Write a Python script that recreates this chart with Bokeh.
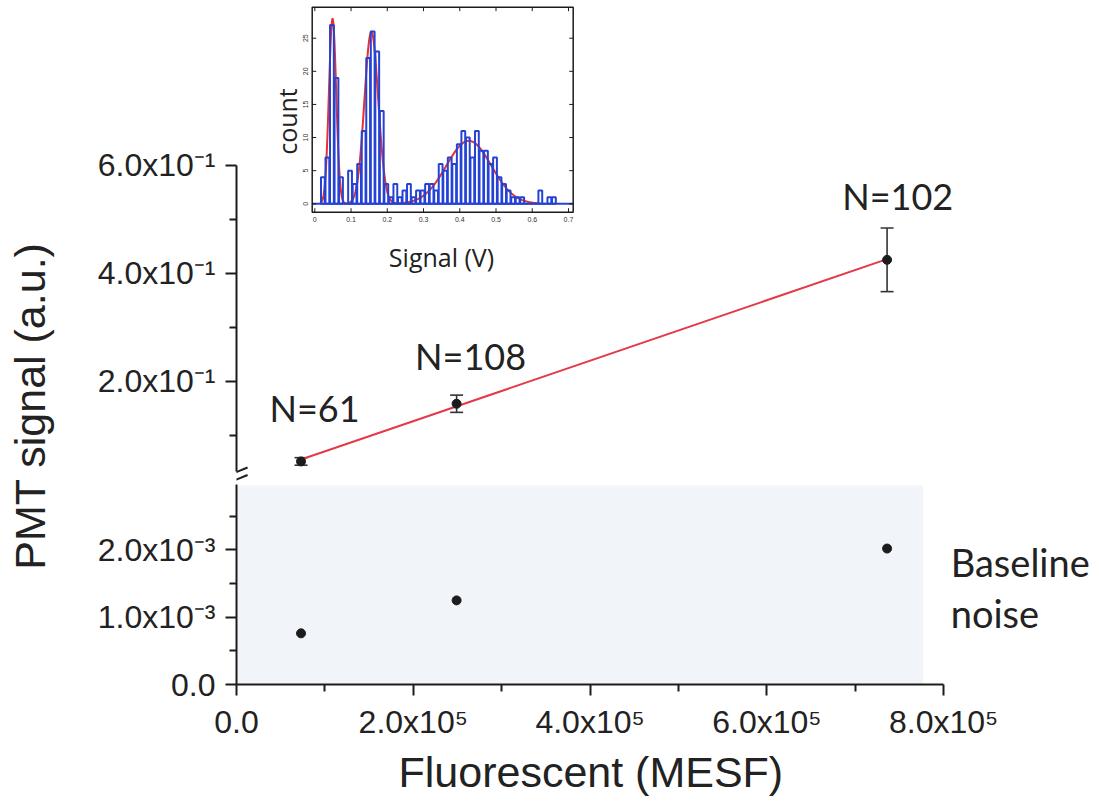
import numpy as np
from bokeh.plotting import figure
from bokeh.layouts import row, column
from bokeh.models import (ColumnDataSource, FixedTicker, Range1d, Whisker, TeeHead,
                          BoxAnnotation, Arrow, Title)
from bokeh.core.properties import value
from bokeh.embed import file_html
from bokeh.resources import INLINE

# ---- data -------------------------------------------------------------
# bead populations: fluorescence (MESF)
mesf = [0.73e5, 2.49e5, 7.36e5]
# mean PMT signal and standard deviation per population
pmt_signal = [0.051, 0.158, 0.425]
pmt_err = [0.007, 0.016, 0.059]
# baseline noise recorded for each population
baseline_noise = [0.76e-3, 1.25e-3, 2.02e-3]
# events per population
n_events = [61, 108, 102]

# inset: histogram of pulse amplitudes (V)
hist_start = 0.016
hist_bin = 0.0125
hist_counts = [4, 7, 27, 19, 4, 0, 5, 3, 6, 11, 22, 26, 23, 14, 3, 1, 3, 1, 2, 3,
               1, 2, 2, 3, 3, 2, 6, 5, 7, 6, 9, 11, 10, 7, 11, 8, 8, 6, 7, 4,
               3, 2, 1, 1, 1, 0, 0, 0, 2, 0, 1, 1]
# three-Gaussian fit of the histogram: amplitude, centre (V), sigma (V)
fit_amp = [28.0, 26.0, 9.5]
fit_mu = [0.049, 0.156, 0.425]
fit_sigma = [0.010, 0.019, 0.062]

# axis ticks and labels
x_ticks = [0, 2e5, 4e5, 6e5, 8e5]
x_minor = [1e5, 3e5, 5e5, 7e5]
x_tick_labels = ["0.0", "2.0x10\u2075", "4.0x10\u2075", "6.0x10\u2075", "8.0x10\u2075"]
upper_ticks = [0.2, 0.4, 0.6]
upper_minor = [0.1, 0.3, 0.5]
upper_tick_labels = ["2.0x10\u207b\u00b9", "4.0x10\u207b\u00b9", "6.0x10\u207b\u00b9"]
lower_ticks = [0, 1e-3, 2e-3]
lower_minor = [0.5e-3, 1.5e-3, 2.5e-3]
lower_tick_labels = ["0.0", "1.0x10\u207b\u00b3", "2.0x10\u207b\u00b3"]
inset_x_ticks = [0, 0.1, 0.2, 0.3, 0.4, 0.5, 0.6, 0.7]
inset_x_labels = ["0", "0.1", "0.2", "0.3", "0.4", "0.5", "0.6", "0.7"]
inset_y_ticks = [0, 5, 10, 15, 20, 25]
inset_y_labels = ["0", "5", "10", "15", "20", "25"]

# ---- styling ----------------------------------------------------------
INK = "#1c1c1c"
TICK_FONT = "Liberation Sans"
NOTE_FONT = "Lato"
FIT_RED = "#e5394a"
HIST_BLUE = "#2443d6"

LEFT_W = 60          # column holding the shared y-axis title
MAIN_W = 1039
BORDER_L = 176
BORDER_R = 10
X_END = 9.65e5
UP_H = 484
LO_H = 326


def make_fig(**kw):
    p = figure(output_backend="svg", toolbar_location=None, tools="", **kw)
    p.grid.visible = False
    p.outline_line_color = None
    p.background_fill_color = "white"
    p.border_fill_color = "white"
    return p


def style_axis(ax, ticks, minor, labels, bounds):
    ax.ticker = FixedTicker(ticks=ticks, minor_ticks=minor)
    ax.major_label_overrides = dict(zip(ticks, labels))
    ax.bounds = bounds
    ax.axis_line_width = 2
    ax.axis_line_color = INK
    ax.major_tick_line_width = 2
    ax.major_tick_line_color = INK
    ax.minor_tick_line_width = 2
    ax.minor_tick_line_color = INK
    ax.major_tick_in = 0
    ax.major_tick_out = 11
    ax.minor_tick_in = 0
    ax.minor_tick_out = 7
    ax.major_label_text_font = TICK_FONT
    ax.major_label_text_font_size = "32px"
    ax.major_label_text_color = "#222222"


x_range = Range1d(0, X_END)

# ---- upper panel: PMT signal ------------------------------------------
up = make_fig(width=MAIN_W, height=UP_H, x_range=x_range,
              y_range=Range1d(0.0082, 0.9061), x_axis_location=None,
              min_border_left=BORDER_L, min_border_right=BORDER_R,
              min_border_top=0, min_border_bottom=0)
style_axis(up.yaxis[0], upper_ticks, upper_minor, upper_tick_labels, (0.0323, 0.6))
up.yaxis[0].major_label_standoff = 10

slope, icpt = np.polyfit(mesf, pmt_signal, 1)
fit_x = [mesf[0], mesf[-1]]
up.line(fit_x, [icpt + slope * v for v in fit_x], line_color=FIT_RED, line_width=2)

sig_src = ColumnDataSource(dict(
    x=mesf, y=pmt_signal,
    lo=[s - e for s, e in zip(pmt_signal, pmt_err)],
    hi=[s + e for s, e in zip(pmt_signal, pmt_err)]))
up.add_layout(Whisker(source=sig_src, base="x", lower="lo", upper="hi",
                      line_color="#333333", line_width=1.6,
                      upper_head=TeeHead(size=13, line_width=1.6, line_color="#333333"),
                      lower_head=TeeHead(size=13, line_width=1.6, line_color="#333333")))
up.scatter("x", "y", source=sig_src, size=9, color=INK)

up.text(x=[0.883e5, 2.648e5, 7.48e5], y=[0.1492, 0.2475, 0.5443],
        text=[f"N={n}" for n in n_events], text_font=value(NOTE_FONT),
        text_font_size="36px", text_align="center", text_baseline="alphabetic",
        text_color="#222222")

# axis-break marks
for y0, y1 in [(0.023, 0.0397), (0.0091, 0.0258)]:
    up.add_layout(Arrow(end=None, x_start=-1.25e4, y_start=y0, x_end=1.25e4, y_end=y1,
                        line_color=INK, line_width=2))

# ---- inset histogram (own ranges inside the upper panel) --------------
up.extra_x_ranges = {"ix": Range1d(-0.2161, 2.1377)}
up.extra_y_ranges = {"iy": Range1d(-42.38, 30.69)}
ins = dict(x_range_name="ix", y_range_name="iy")

fx = np.linspace(0.015, 0.62, 400)
fy = sum(a * np.exp(-(fx - m) ** 2 / (2 * s ** 2)) for a, m, s in zip(fit_amp, fit_mu, fit_sigma))
up.line(fx, fy, line_color="#e8302c", line_width=2, **ins)

centers = [hist_start + hist_bin * (i + 0.5) for i in range(len(hist_counts))]
up.quad(left=[c - 0.42 * hist_bin for c in centers], right=[c + 0.42 * hist_bin for c in centers],
        bottom=0, top=hist_counts, fill_color=None, line_color=HIST_BLUE, line_width=2, **ins)
up.segment(x0=[-0.0072], y0=[0], x1=[0.713], y1=[0], line_color=HIST_BLUE, line_width=2, **ins)

# inset frame and inward ticks
up.quad(left=[-0.0072], right=[0.713], bottom=[-1.27], top=[29.68],
        fill_color=None, line_color=INK, line_width=1.5, **ins)
up.segment(x0=inset_x_ticks, y0=[-1.27] * 8, x1=inset_x_ticks, y1=[-0.67] * 8,
           line_color=INK, line_width=1, **ins)
up.segment(x0=inset_x_ticks, y0=[29.68] * 8, x1=inset_x_ticks, y1=[29.08] * 8,
           line_color=INK, line_width=1, **ins)
up.segment(x0=[-0.0072] * 6, y0=inset_y_ticks, x1=[0.004] * 6, y1=inset_y_ticks,
           line_color=INK, line_width=1, **ins)
up.segment(x0=[0.713] * 6, y0=inset_y_ticks, x1=[0.702] * 6, y1=inset_y_ticks,
           line_color=INK, line_width=1, **ins)
up.text(x=inset_x_ticks, y=[-2.3] * 8, text=inset_x_labels, text_font=value(TICK_FONT),
        text_font_size="7px", text_align="center", text_baseline="middle",
        text_color="#333333", **ins)
up.text(x=[-0.0257] * 6, y=inset_y_ticks, text=inset_y_labels, angle=np.pi / 2,
        text_font=value(TICK_FONT), text_font_size="7px", text_align="center",
        text_baseline="middle", text_color="#333333", **ins)
up.text(x=[-0.078], y=[12.42], text=["count"], angle=np.pi / 2, text_font=value("Open Sans"),
        text_font_size="25px", text_align="center", text_baseline="middle",
        text_color="#222222", **ins)
up.text(x=[0.3496], y=[-7.96], text=["Signal (V)"], text_font=value("Open Sans"),
        text_font_size="25px", text_align="center", text_baseline="middle",
        text_color="#222222", **ins)

# ---- lower panel: baseline noise --------------------------------------
lo = make_fig(width=MAIN_W, height=LO_H, x_range=x_range,
              y_range=Range1d(0, 200 / 67300),
              min_border_left=BORDER_L, min_border_right=BORDER_R,
              min_border_top=0, min_border_bottom=126)
lo.add_layout(BoxAnnotation(left=0, right=7.77e5, bottom=0, top=2.957e-3,
                            fill_color="#f1f4f9", fill_alpha=1.0, line_color=None,
                            level="underlay"))
style_axis(lo.yaxis[0], lower_ticks, lower_minor, lower_tick_labels, (0, 1))
lo.yaxis[0].major_label_standoff = 10
style_axis(lo.xaxis[0], x_ticks, x_minor, x_tick_labels, (0, 8e5))
lo.xaxis[0].major_label_standoff = 8

# x-axis title, placed under the middle of the drawn axis (0 .. 8x10^5)
lo.add_layout(Title(text="Fluorescent (MESF)", align="left", offset=162,
                    text_font=TICK_FONT, text_font_size="43px",
                    text_font_style="normal", text_color="#222222",
                    standoff=6), "below")

lo.scatter(mesf, baseline_noise, size=9, color=INK)
lo.text(x=[8.08e5, 8.08e5], y=[1.813e-3, 1.055e-3], text=["Baseline", "noise"],
        text_font=value(NOTE_FONT), text_font_size="38px", text_align="left",
        text_baseline="alphabetic", text_color="#222222")

# ---- shared y-axis title ----------------------------------------------
lab = make_fig(width=LEFT_W, height=UP_H + LO_H, x_range=Range1d(0, LEFT_W),
               y_range=Range1d(0, UP_H + LO_H), x_axis_location=None,
               y_axis_location=None, min_border=0)
lab.text(x=[29], y=[404.5], text=["PMT signal (a.u.)"], angle=np.pi / 2,
         text_font=value(TICK_FONT), text_font_size="43px", text_align="center",
         text_baseline="middle", text_color="#222222")

p = row(lab, column(up, lo))
open("out.html", "w").write(file_html(p, INLINE))
